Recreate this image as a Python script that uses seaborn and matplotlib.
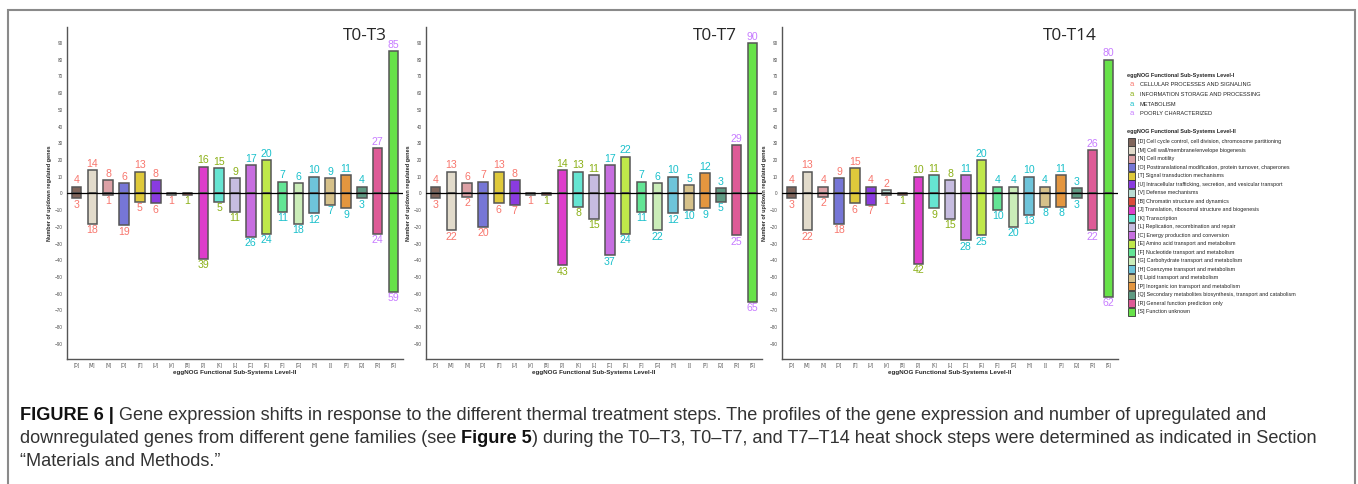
import matplotlib.pyplot as plt
from matplotlib.patches import Rectangle
import pandas as pd
import seaborn as sns

# eggNOG level-II categories in plotting order
cats = ['D', 'M', 'N', 'O', 'T', 'U', 'V', 'B', 'J', 'K', 'L',
        'C', 'E', 'F', 'G', 'H', 'I', 'P', 'Q', 'R', 'S']
cat_names = [
    '[D] Cell cycle control, cell division, chromosome partitioning',
    '[M] Cell wall/membrane/envelope biogenesis',
    '[N] Cell motility',
    '[O] Posttranslational modification, protein turnover, chaperones',
    '[T] Signal transduction mechanisms',
    '[U] Intracellular trafficking, secretion, and vesicular transport',
    '[V] Defense mechanisms',
    '[B] Chromatin structure and dynamics',
    '[J] Translation, ribosomal structure and biogenesis',
    '[K] Transcription',
    '[L] Replication, recombination and repair',
    '[C] Energy production and conversion',
    '[E] Amino acid transport and metabolism',
    '[F] Nucleotide transport and metabolism',
    '[G] Carbohydrate transport and metabolism',
    '[H] Coenzyme transport and metabolism',
    '[I] Lipid transport and metabolism',
    '[P] Inorganic ion transport and metabolism',
    '[Q] Secondary metabolites biosynthesis, transport and catabolism',
    '[R] General function prediction only',
    '[S] Function unknown',
]
bar_colors = ['#80655B', '#E2DBCB', '#DCA1A6', '#7676D6', '#DFC93B', '#8A3BE0',
              '#BADDD4', '#DB4B3A', '#DD3DCB', '#66E5D2', '#C6BCE0', '#C76EE0',
              '#BFE84A', '#63E595', '#CBEDB9', '#6EC4DA', '#D6C18A', '#E4963F',
              '#5F9A82', '#DE5B97', '#67E249']

# level-I group of each category (index into lvl1 lists)
level1 = [0] * 7 + [1] * 4 + [2] * 8 + [3] * 2
lvl1_names = ['CELLULAR PROCESSES AND SIGNALING', 'INFORMATION STORAGE AND PROCESSING',
              'METABOLISM', 'POORLY CHARACTERIZED']
lvl1_colors = ['#F8766D', '#8BB017', '#19C0CB', '#C77CFF']

# up / down regulated gene counts
titles = ['T0-T3', 'T0-T7', 'T0-T14']
up_t3 = [4, 14, 8, 6, 13, 8, 0, 0, 16, 15, 9, 17, 20, 7, 6, 10, 9, 11, 4, 27, 85]
down_t3 = [3, 18, 1, 19, 5, 6, 1, 1, 39, 5, 11, 26, 24, 11, 18, 12, 7, 9, 3, 24, 59]
up_t7 = [4, 13, 6, 7, 13, 8, 0, 0, 14, 13, 11, 17, 22, 7, 6, 10, 5, 12, 3, 29, 90]
down_t7 = [3, 22, 2, 20, 6, 7, 1, 1, 43, 8, 15, 37, 24, 11, 22, 12, 10, 9, 5, 25, 65]
up_t14 = [4, 13, 4, 9, 15, 4, 2, 0, 10, 11, 8, 11, 20, 4, 4, 10, 4, 11, 3, 26, 80]
down_t14 = [3, 22, 2, 18, 6, 7, 1, 1, 42, 9, 15, 28, 25, 10, 20, 13, 8, 8, 3, 22, 62]

W, H = 1358, 484
sns.set_style('white')
plt.rcParams['font.family'] = ['Liberation Sans', 'DejaVu Sans']

fig = plt.figure(figsize=(W / 100, H / 100), dpi=100)


def fx(px):
    return px / W


def fy(py):
    return 1 - py / H


pal = dict(zip(cats, bar_colors))


def panel(ax, up, down, title, tx):
    df = pd.DataFrame({'cat': cats, 'up': up, 'down': [-d for d in down]})
    for col in ['up', 'down']:
        sns.barplot(data=df, x='cat', y=col, hue='cat', palette=pal, order=cats,
                    width=0.6, saturation=1, edgecolor='#555555', linewidth=1.1,
                    legend=False, ax=ax)
    ax.axhline(0, color='black', lw=0.9, zorder=5)
    for i, (u, d) in enumerate(zip(up, down)):
        c = lvl1_colors[level1[i]]
        if u > 0:
            ax.text(i, u + 0.8, str(u), ha='center', va='bottom', color=c, fontsize=7.6)
        if d > 0:
            ax.text(i, -d - 0.8, str(d), ha='center', va='top', color=c, fontsize=7.6)
    ax.set_xlim(-0.6, 20.6)
    ax.set_ylim(-99, 99.5)
    ax.set_yticks(range(-90, 91, 10))
    ax.set_xticks(range(len(cats)))
    ax.set_xticklabels(['[%s]' % c for c in cats])
    ax.set_xlabel('eggNOG Functional Sub-Systems Level-II', fontsize=4.5,
                  weight='bold', labelpad=1.5)
    ax.set_ylabel('Number of up/down regulated genes', fontsize=4, weight='bold', labelpad=2)
    sns.despine(ax=ax)
    for s in ['left', 'bottom']:
        ax.spines[s].set_color('#555555')
        ax.spines[s].set_linewidth(1.0)
    ax.tick_params(labelsize=3.3, length=2, width=0.5, colors='#4d4d4d', pad=1)
    ax.text(tx, 0.972, title, transform=ax.transAxes, ha='center', va='center',
            fontsize=12.4, family='Open Sans')


lefts = [67, 426, 782]
title_x = [0.887, 0.86, 0.857]
ups = [up_t3, up_t7, up_t14]
downs = [down_t3, down_t7, down_t14]
for k in range(3):
    ax = fig.add_axes([fx(lefts[k]), fy(359), 336 / W, 332 / H])
    panel(ax, ups[k], downs[k], titles[k], title_x[k])

# legend, level I
fig.text(fx(1127), fy(75), 'eggNOG Functional Sub-Systems Level-I', fontsize=4,
         weight='bold', va='center')
for j, (name, col) in enumerate(zip(lvl1_names, lvl1_colors)):
    y = 85 + j * 9.5
    fig.text(fx(1131.5), fy(y), 'a', color=col, fontsize=5.5, ha='center', va='center')
    fig.text(fx(1140), fy(y), name, fontsize=4.1, color='#222222', va='center')

# legend, level II
fig.text(fx(1127), fy(132), 'eggNOG Functional Sub-Systems Level-II', fontsize=4,
         weight='bold', va='center')
for j, (name, col) in enumerate(zip(cat_names, bar_colors)):
    y = 141.7 + j * 8.5
    fig.add_artist(Rectangle((fx(1127.5), fy(y + 3.8)), 7.5 / W, 7.6 / H,
                             transform=fig.transFigure, facecolor=col,
                             edgecolor='#333333', lw=0.6))
    fig.text(fx(1138), fy(y), name, fontsize=3.9, color='#222222', va='center')

# outer frame
fig.add_artist(Rectangle((fx(8), -0.05), (1355 - 8) / W, 1.05 - 10 / H,
                         transform=fig.transFigure, fill=False,
                         edgecolor='#8a8a8a', lw=1.5))

# caption with mixed weights
renderer = fig.canvas.get_renderer()


def cap_line(pieces, y):
    x = fx(20)
    for txt, bold in pieces:
        t = fig.text(x, fy(y), txt, fontsize=13.1, va='baseline',
                     color='#111111' if bold else '#333333',
                     weight='bold' if bold else 'normal')
        bb = t.get_window_extent(renderer)
        x += bb.width / W


cap_line([('FIGURE 6 |', True),
          (' Gene expression shifts in response to the different thermal treatment steps. '
           'The profiles of the gene expression and number of upregulated and', False)], 420)
cap_line([('downregulated genes from different gene families (see ', False),
          ('Figure 5', True),
          (') during the T0\u2013T3, T0\u2013T7, and T7\u2013T14 heat shock steps were '
           'determined as indicated in Section', False)], 443)
cap_line([('\u201cMaterials and Methods.\u201d', False)], 466)

fig.savefig('out.png', dpi=100)
